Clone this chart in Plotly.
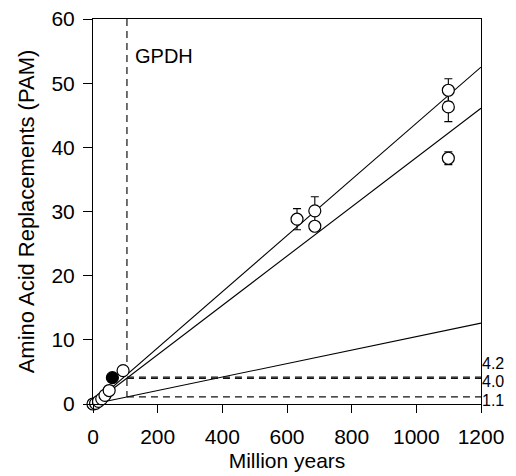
import plotly.graph_objects as go

# Sequence divergence (PAM) against divergence time (million years)
near_x = [0, 8, 17, 27, 37, 50, 93]
near_y = [0.0, 0.1, 0.4, 0.8, 1.35, 2.1, 5.2]

gpdh_x = [60]
gpdh_y = [4.1]

far_x = [631, 686, 686, 1099, 1099, 1099]
far_y = [28.8, 30.1, 27.7, 48.9, 46.3, 38.3]
far_err = [1.65, 2.2, 0.0, 1.8, 2.3, 1.0]

# Fitted rate lines (end points)
fit_x = [0, 1200]
fit_upper = [0, 52.5]
fit_middle = [0, 46.1]
fit_lower = [0, 12.6]

gpdh_time = 105
rate_values = [4.2, 4.0, 1.1]
rate_labels = ["4.2", "4.0", "1.1"]

x_ticks = [0, 200, 400, 600, 800, 1000, 1200]
y_ticks = [0, 10, 20, 30, 40, 50, 60]

FONT = "Liberation Sans, Arial, sans-serif"
dash_style = dict(color="#111", width=1.2, dash="7px,5px")

fig = go.Figure()

for fy in (fit_upper, fit_middle, fit_lower):
    fig.add_trace(go.Scatter(x=fit_x, y=fy, mode="lines",
                             line=dict(color="black", width=1.1),
                             hoverinfo="skip", showlegend=False))

# vertical guide at the GPDH divergence time
fig.add_trace(go.Scatter(x=[gpdh_time, gpdh_time], y=[60, min(rate_values)],
                         mode="lines", line=dash_style, showlegend=False))
# horizontal guides from the GPDH time to the right edge
for v in rate_values:
    fig.add_trace(go.Scatter(x=[gpdh_time, 1200], y=[v, v], mode="lines",
                             line=dash_style, showlegend=False))

marker_open = dict(symbol="circle", size=12, color="white",
                   line=dict(color="black", width=1.2))

fig.add_trace(go.Scatter(x=far_x, y=far_y, mode="markers", marker=marker_open,
                         error_y=dict(type="data", array=far_err, color="black",
                                      thickness=1.1, width=4),
                         cliponaxis=False, showlegend=False))
fig.add_trace(go.Scatter(x=near_x, y=near_y, mode="markers", marker=marker_open,
                         cliponaxis=False, showlegend=False))
fig.add_trace(go.Scatter(x=gpdh_x, y=gpdh_y, mode="markers",
                         marker=dict(symbol="circle", size=12, color="black",
                                     line=dict(color="black", width=1.2)),
                         cliponaxis=False, showlegend=False))

fig.add_annotation(x=gpdh_time, y=54.3, xref="x", yref="y", text="GPDH",
                   showarrow=False, xanchor="left", yanchor="middle", xshift=6,
                   font=dict(family=FONT, size=20, color="black"))

label_shift = [14, -3, -4]
for v, t, s in zip(rate_values, rate_labels, label_shift):
    fig.add_annotation(x=1200, y=v, xref="x", yref="y", text=t, showarrow=False,
                       xanchor="left", yanchor="middle", xshift=0, yshift=s,
                       borderpad=0,
                       font=dict(family=FONT, size=16, color="black"))

fig.update_xaxes(range=[0, 1200], tickvals=x_ticks, ticks="outside", ticklen=8,
                 tickwidth=1, tickcolor="black", showline=True, linecolor="black",
                 linewidth=1, mirror=True, showgrid=False, zeroline=False,
                 ticklabelstandoff=6, automargin=False,
                 tickfont=dict(family=FONT, size=21, color="black"),
                 title=dict(text="Million years", standoff=6,
                            font=dict(family=FONT, size=21, color="black")))
fig.update_yaxes(range=[0, 60], tickvals=y_ticks, ticks="outside", ticklen=9,
                 tickwidth=1, tickcolor="black", showline=True, linecolor="black",
                 linewidth=1, mirror=True, showgrid=False, zeroline=False,
                 ticklabelstandoff=4, automargin=False,
                 tickfont=dict(family=FONT, size=21, color="black"),
                 title=dict(text="Amino Acid Replacements (PAM)", standoff=10,
                            font=dict(family=FONT, size=22, color="black")))

fig.update_layout(width=516, height=476, autosize=False,
                  margin=dict(l=93, r=35, t=19, b=72),
                  paper_bgcolor="white", plot_bgcolor="white",
                  showlegend=False)

fig.write_html("out.html")
